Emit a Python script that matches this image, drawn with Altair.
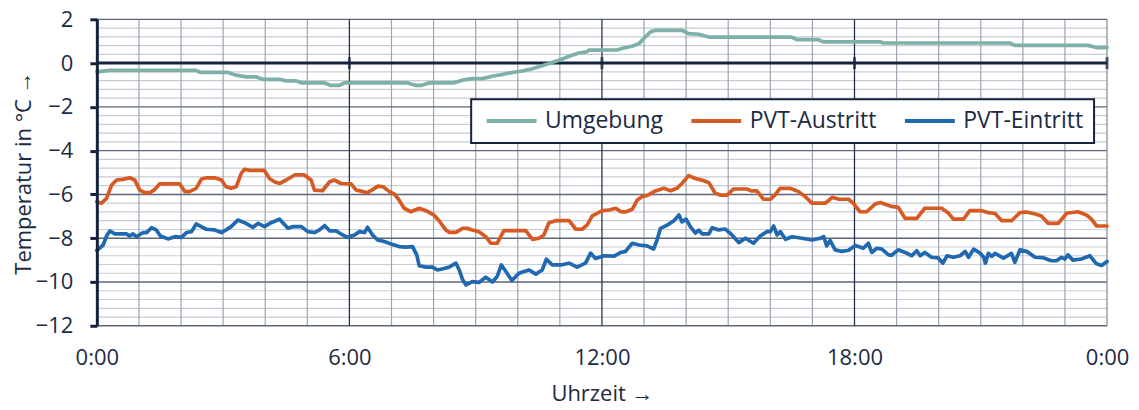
import altair as alt
import pandas as pd

FONT = "Open Sans"
TEXT = "#1c2a43"
NAVY = "#16233d"

series_names = ["Umgebung", "PVT-Austritt", "PVT-Eintritt"]
series_colors = ["#7db0a9", "#d65a23", "#2068b0"]

# (hour, temperature)
umgebung = [
    (0, -0.4), (0.3, -0.33), (2.35, -0.33), (2.45, -0.42), (3.1, -0.42), (3.31, -0.55),
    (3.55, -0.63), (3.79, -0.63), (3.94, -0.74), (4.33, -0.74), (4.5, -0.81), (4.74, -0.81),
    (4.85, -0.9), (5.4, -0.9), (5.56, -1.02), (5.76, -1.02), (5.88, -0.9), (7.37, -0.9),
    (7.58, -1.02), (7.7, -1.02), (7.9, -0.9), (8.49, -0.9), (8.68, -0.78), (8.92, -0.71),
    (9.16, -0.71), (9.39, -0.6), (9.63, -0.52), (9.87, -0.43), (10.1, -0.36), (10.3, -0.28),
    (10.5, -0.17), (10.74, -0.02), (10.98, 0.13), (11.22, 0.31), (11.45, 0.46), (11.64, 0.51),
    (11.69, 0.59), (12.35, 0.6), (12.52, 0.69), (12.71, 0.77), (12.88, 0.89), (13.03, 1.19),
    (13.15, 1.42), (13.27, 1.5), (13.9, 1.5), (14.06, 1.35), (14.3, 1.32), (14.54, 1.19),
    (16.5, 1.19), (16.63, 1.07), (17.14, 1.07), (17.26, 0.97), (18.6, 0.97), (18.69, 0.92),
    (21.69, 0.92), (21.81, 0.81), (23.55, 0.81), (23.74, 0.71), (24, 0.71),
]

austritt = [
    (0, -6.33), (0.11, -6.4), (0.23, -6.18), (0.35, -5.57), (0.47, -5.34), (0.62, -5.31),
    (0.78, -5.24), (0.9, -5.34), (1.02, -5.8), (1.14, -5.92), (1.26, -5.92), (1.38, -5.77),
    (1.49, -5.52), (1.97, -5.52), (2.09, -5.87), (2.2, -5.87), (2.36, -5.72), (2.48, -5.31),
    (2.6, -5.24), (2.8, -5.24), (2.96, -5.34), (3.07, -5.65), (3.19, -5.72), (3.31, -5.65),
    (3.43, -5.04), (3.51, -4.85), (3.63, -4.9), (3.98, -4.9), (4.1, -5.27), (4.22, -5.42),
    (4.34, -5.5), (4.5, -5.34), (4.7, -5.11), (4.93, -5.11), (5.09, -5.34), (5.17, -5.8),
    (5.36, -5.83), (5.53, -5.42), (5.64, -5.34), (5.8, -5.5), (6.04, -5.52), (6.16, -5.8),
    (6.32, -5.87), (6.43, -5.92), (6.56, -5.77), (6.68, -5.62), (6.8, -5.65), (6.95, -5.87),
    (7.07, -5.99), (7.18, -6.25), (7.3, -6.63), (7.46, -6.79), (7.66, -6.63), (7.82, -6.74),
    (8.01, -6.94), (8.13, -7.2), (8.29, -7.62), (8.37, -7.73), (8.53, -7.73), (8.69, -7.55),
    (8.8, -7.55), (8.92, -7.62), (9.08, -7.7), (9.24, -7.93), (9.36, -8.23), (9.51, -8.23),
    (9.67, -7.65), (9.79, -7.65), (10.19, -7.65), (10.35, -8.05), (10.5, -8.0), (10.62, -7.85),
    (10.74, -7.29), (10.9, -7.2), (11.22, -7.2), (11.38, -7.59), (11.53, -7.59), (11.65, -7.39),
    (11.77, -6.98), (12.01, -6.74), (12.17, -6.71), (12.33, -6.63), (12.45, -6.79), (12.56, -6.8),
    (12.72, -6.68), (12.84, -6.25), (12.95, -6.1), (13.07, -6.05), (13.27, -5.84), (13.47, -5.72),
    (13.63, -5.83), (13.78, -5.72), (13.9, -5.5), (14.06, -5.14), (14.22, -5.27), (14.42, -5.37),
    (14.54, -5.46), (14.69, -5.95), (14.81, -6.03), (14.97, -6.03), (15.13, -5.75), (15.44, -5.75),
    (15.56, -5.84), (15.68, -5.84), (15.84, -6.22), (16.0, -6.22), (16.11, -6.03), (16.23, -5.72),
    (16.47, -5.72), (16.67, -5.87), (16.83, -6.1), (16.99, -6.4), (17.31, -6.4), (17.47, -6.13),
    (17.63, -6.22), (17.86, -6.22), (17.97, -6.4), (18.13, -6.79), (18.29, -6.79), (18.49, -6.44),
    (18.61, -6.37), (18.73, -6.45), (18.85, -6.53), (19.04, -6.59), (19.2, -7.09), (19.48, -7.09),
    (19.67, -6.63), (20.07, -6.63), (20.23, -6.85), (20.35, -7.13), (20.59, -7.13), (20.74, -6.74),
    (21.02, -6.74), (21.18, -6.83), (21.34, -6.87), (21.5, -7.2), (21.73, -7.2), (21.93, -6.83),
    (22.09, -6.8), (22.29, -6.89), (22.44, -6.98), (22.6, -7.32), (22.84, -7.32), (23.04, -6.86),
    (23.31, -6.79), (23.51, -6.94), (23.63, -7.13), (23.75, -7.44), (24, -7.44),
]

eintritt = [
    (0, -8.56), (0.15, -8.31), (0.23, -7.9), (0.31, -7.67), (0.43, -7.8), (0.59, -7.8),
    (0.7, -7.8), (0.78, -7.9), (0.86, -7.8), (0.94, -7.93), (1.1, -7.74), (1.18, -7.74),
    (1.3, -7.52), (1.41, -7.62), (1.51, -7.9), (1.69, -8.03), (1.85, -7.93), (2.01, -7.96),
    (2.13, -7.74), (2.25, -7.7), (2.36, -7.35), (2.48, -7.47), (2.6, -7.59), (2.8, -7.62),
    (2.96, -7.74), (3.07, -7.62), (3.19, -7.47), (3.35, -7.17), (3.51, -7.29), (3.71, -7.5),
    (3.83, -7.32), (3.98, -7.47), (4.14, -7.29), (4.34, -7.13), (4.54, -7.54), (4.66, -7.47),
    (4.86, -7.47), (5.01, -7.7), (5.17, -7.74), (5.29, -7.62), (5.41, -7.42), (5.53, -7.66),
    (5.68, -7.66), (5.84, -7.85), (5.96, -7.96), (6.12, -7.85), (6.24, -7.7), (6.36, -7.74),
    (6.43, -7.5), (6.55, -7.85), (6.67, -8.08), (6.83, -8.15), (6.99, -8.26), (7.18, -8.38),
    (7.34, -8.41), (7.5, -8.38), (7.6, -8.76), (7.66, -9.26), (7.82, -9.32), (7.97, -9.32),
    (8.09, -9.45), (8.25, -9.38), (8.37, -9.32), (8.53, -9.14), (8.61, -9.45), (8.69, -9.9),
    (8.77, -10.13), (8.92, -9.98), (9.08, -10.02), (9.24, -9.78), (9.4, -10.0), (9.51, -9.75),
    (9.61, -9.22), (9.71, -9.5), (9.86, -9.93), (10.03, -9.6), (10.15, -9.52), (10.27, -9.45),
    (10.43, -9.64), (10.58, -9.45), (10.68, -8.96), (10.82, -9.22), (11.02, -9.22), (11.22, -9.14),
    (11.41, -9.32), (11.61, -9.14), (11.73, -8.68), (11.85, -8.93), (12.05, -8.8), (12.29, -8.82),
    (12.45, -8.65), (12.56, -8.6), (12.72, -8.23), (12.88, -8.31), (13.07, -8.35), (13.23, -8.49),
    (13.31, -8.08), (13.39, -7.55), (13.55, -7.4), (13.71, -7.2), (13.83, -6.94), (13.9, -7.25),
    (14.0, -7.13), (14.1, -7.47), (14.22, -7.77), (14.3, -7.63), (14.38, -7.8), (14.54, -7.8),
    (14.62, -7.52), (14.77, -7.62), (14.93, -7.58), (15.09, -7.85), (15.25, -8.2), (15.41, -8.0),
    (15.6, -8.23), (15.76, -7.9), (15.92, -7.7), (16.0, -7.7), (16.08, -7.44), (16.16, -7.85),
    (16.24, -7.7), (16.36, -8.05), (16.52, -7.93), (16.75, -8.0), (16.99, -8.08), (17.19, -8.0),
    (17.27, -7.93), (17.34, -8.35), (17.42, -8.1), (17.54, -8.53), (17.7, -8.6), (17.86, -8.55),
    (18.02, -8.33), (18.21, -8.46), (18.33, -8.23), (18.41, -8.65), (18.53, -8.46), (18.65, -8.5),
    (18.81, -8.76), (18.88, -8.78), (19.04, -8.53), (19.2, -8.65), (19.36, -8.8), (19.48, -8.57),
    (19.56, -8.8), (19.67, -8.65), (19.83, -8.87), (19.99, -8.9), (20.1, -9.14), (20.2, -8.8),
    (20.35, -8.87), (20.51, -8.8), (20.63, -8.6), (20.71, -8.87), (20.83, -8.5), (20.99, -8.69),
    (21.07, -8.87), (21.11, -9.14), (21.18, -8.69), (21.26, -8.83), (21.34, -8.69), (21.54, -8.91),
    (21.73, -8.69), (21.81, -9.1), (21.93, -8.53), (22.09, -8.6), (22.29, -8.87), (22.48, -8.89),
    (22.68, -9.03), (22.8, -9.03), (22.92, -8.87), (23.0, -8.95), (23.07, -8.76), (23.19, -9.0),
    (23.39, -8.95), (23.59, -8.8), (23.75, -9.17), (23.87, -9.25), (24, -9.06),
]

# axis / grid values
x_ticks = [0, 6, 12, 18, 24]
x_minor = [h for h in range(1, 24) if h % 6 != 0]
x_major = [6, 12, 18]
x_border = [24]
y_ticks = [-12, -10, -8, -6, -4, -2, 0, 2]
y_major = [-12, -10, -8, -6, -4, -2, 2]
y_minor = [round(-12 + 0.4 * k, 1) for k in range(36) if k % 5 != 0]
zero_ticks = [6, 12, 18, 24]

rows = []
for name, pts in zip(series_names, [umgebung, austritt, eintritt]):
    for h, t in pts:
        rows.append({"h": h, "t": t, "s": name})
df = pd.DataFrame(rows)

xs = alt.Scale(domain=[0, 24], nice=False, zero=False)
ys = alt.Scale(domain=[-12, 2], nice=False, zero=False)

X_TITLE = "Uhrzeit →"
Y_TITLE = "Temperatur in °C →"

X_AX = alt.Axis(
    values=x_ticks,
    labelExpr="datum.value == 24 ? '0:00' : datum.value + ':00'",
    domain=False,
    ticks=False,
    grid=False,
    labelPadding=22,
    titlePadding=15,
    labelFlush=False,
)
Y_AX = alt.Axis(
    values=y_ticks,
    domain=True,
    domainColor=NAVY,
    domainWidth=3,
    ticks=True,
    tickColor=NAVY,
    tickWidth=3,
    tickSize=7,
    labelPadding=17,
    titlePadding=0,
    grid=False,
    zindex=2,
)


def X(field):
    return alt.X(field, scale=xs, axis=X_AX, title=X_TITLE)


def Y(field):
    return alt.Y(field, scale=ys, axis=Y_AX, title=Y_TITLE)


def hrules(vals, color, width):
    return alt.Chart(pd.DataFrame({"v": vals})).mark_rule(color=color, strokeWidth=width).encode(
        y=Y("v:Q")
    )


def vrules(vals, color, width):
    return alt.Chart(pd.DataFrame({"v": vals})).mark_rule(color=color, strokeWidth=width).encode(
        x=X("v:Q")
    )


minor_h = hrules(y_minor, "#c8ccd4", 1.2)
minor_v = vrules(x_minor, "#9ea4b1", 1.2)
major_h = hrules(y_major, "#5d6678", 1.4)
major_v = vrules(x_major, "#27334d", 1.3)
border_v = vrules(x_border, "#8a90a0", 1.3)
zero_line = hrules([0], NAVY, 3)

zt = alt.Chart(pd.DataFrame({"h": zero_ticks, "t": [0] * len(zero_ticks)})).mark_tick(
    orient="vertical", color=NAVY, thickness=3, size=12
).encode(x=X("h:Q"), y=Y("t:Q"))

lines = alt.Chart(df).mark_line(strokeWidth=3.7, strokeJoin="round", strokeCap="round").encode(
    x=X("h:Q"),
    y=Y("t:Q"),
    color=alt.Color(
        "s:N",
        scale=alt.Scale(domain=series_names, range=series_colors),
        sort=series_names,
        legend=alt.Legend(
            orient="none",
            legendX=375,
            legendY=80,
            direction="horizontal",
            title=None,
            symbolType="M-1.2,0H8.8",
            symbolSize=100,
            symbolStrokeWidth=4,
            labelOffset=41,
            columnPadding=19,
            padding=10,
            strokeColor=NAVY,
            fillColor="white",
        ),
    ),
    order=alt.Order("h:Q"),
)

chart = (
    alt.layer(minor_h, minor_v, major_h, major_v, border_v, zero_line, zt, lines)
    .properties(
        width=1012,
        height=307,
        autosize=alt.AutoSizeParams(type="none"),
        padding={"left": 89, "top": 11, "right": 24, "bottom": 81},
    )
    .configure_view(stroke=None)
    .configure_axis(
        labelFont=FONT,
        labelFontSize=22,
        labelColor=TEXT,
        titleFont=FONT,
        titleFontSize=22,
        titleFontWeight="normal",
        titleColor=TEXT,
    )
    .configure_legend(
        labelFont=FONT,
        labelFontSize=23,
        labelColor=TEXT,
        strokeWidth=2,
    )
)

chart.save("out.html", embed_options={"renderer": "svg", "actions": False})
